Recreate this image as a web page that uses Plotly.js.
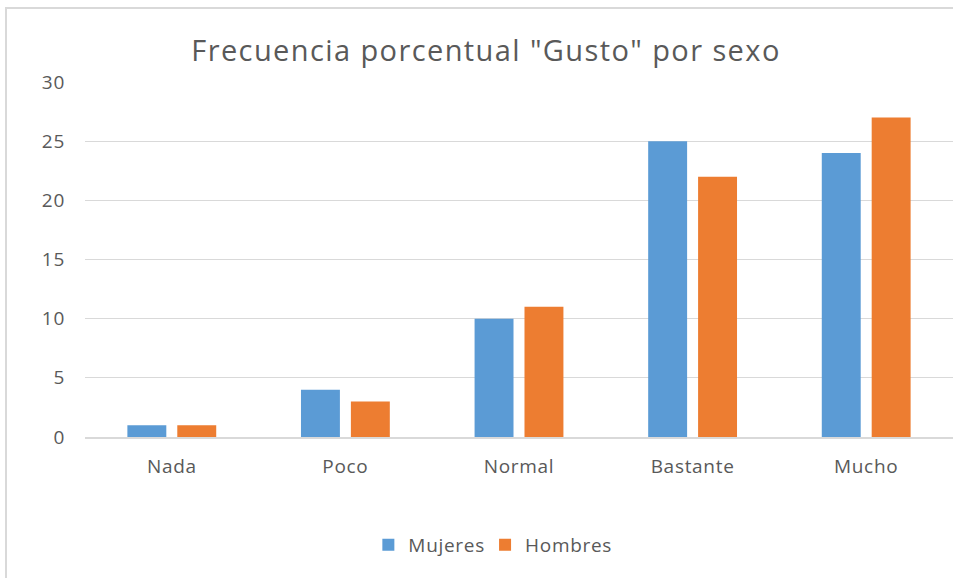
<!DOCTYPE html>
<html><head><meta charset="utf-8">
<script src="https://cdn.plot.ly/plotly-3.0.1.min.js"></script>
<style>
body{margin:0;background:#fff;}
#wrap{position:relative;width:953px;height:578px;}
#chart{width:953px;height:578px;}
#chart text{letter-spacing:0.7px;}
#chart .gtitle{letter-spacing:1.4px;}
#frame{position:absolute;left:5px;top:7px;right:0;bottom:0;border-left:2px solid #d9d9d9;border-top:2px solid #d9d9d9;pointer-events:none;}
</style></head>
<body>
<div id="wrap"><div id="chart"></div><div id="frame"></div></div>
<script>
const categories = ["Nada","Poco","Normal","Bastante","Mucho"];
const mujeres = [1,4,10,25,24];
const hombres = [1,3,11,22,27];
const yTicks = [0,5,10,15,20,25,30];

const fam = "Open Sans, sans-serif";
const col = "#595959";
const data = [
  {type:"bar", name:"Mujeres", x:categories, y:mujeres, marker:{color:"#5B9BD5"}},
  {type:"bar", name:"Hombres", x:categories, y:hombres, marker:{color:"#ED7D31"}}
];
const layout = {
  width:953, height:578,
  margin:{l:85, r:0, t:82, b:141},
  paper_bgcolor:"#fff", plot_bgcolor:"#fff",
  barmode:"group", bargap:0.425, bargroupgap:0.22,
  title:{text:'Frecuencia porcentual "Gusto" por sexo', x:0.51, xref:"container", xanchor:"center", y:0.912, yref:"container", yanchor:"middle", font:{family:fam, color:col, size:29}},
  xaxis:{type:"category", showgrid:false, showline:true, linecolor:"#d9d9d9", linewidth:1.5, ticks:"", ticklabelstandoff:12, tickfont:{family:fam, color:col, size:19}, zeroline:false, fixedrange:true},
  yaxis:{range:[0,30], tickvals:yTicks, showgrid:true, gridcolor:"#d9d9d9", gridwidth:1.2, zeroline:false, showline:false, ticks:"", ticklabelstandoff:19, tickfont:{family:fam, color:col, size:19}, fixedrange:true},
  showlegend:true,
  legend:{orientation:"h", x:0.467, xanchor:"center", y:-0.304, yanchor:"middle", font:{family:fam, color:col, size:19}, itemwidth:30},
  font:{family:fam, color:col}
};
Plotly.newPlot("chart", data, layout, {displayModeBar:false, staticPlot:true});
</script>
</body></html>
